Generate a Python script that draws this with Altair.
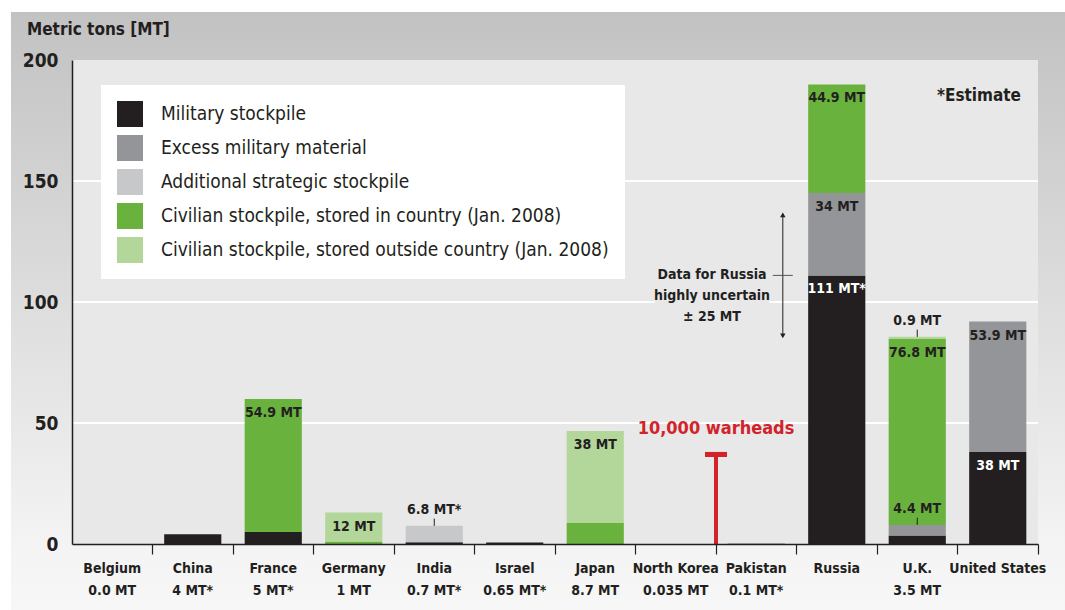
import altair as alt
import pandas as pd

# ---------------- data ----------------
countries = ["Belgium", "China", "France", "Germany", "India", "Israel", "Japan",
             "North Korea", "Pakistan", "Russia", "U.K.", "United States"]
sublabels = ["0.0 MT", "4 MT*", "5 MT*", "1 MT", "0.7 MT*", "0.65 MT*", "8.7 MT",
             "0.035 MT", "0.1 MT*", "", "3.5 MT", ""]

categories = ["Military stockpile", "Excess military material", "Additional strategic stockpile",
              "Civilian stockpile, stored in country (Jan. 2008)",
              "Civilian stockpile, stored outside country (Jan. 2008)"]
colors = ["#231f20", "#939598", "#c7c8ca", "#6ab23e", "#b3d69a"]

military   = [0, 4, 5, 0, 0.7, 0.65, 0, 0.035, 0.1, 111, 3.5, 38]
excess     = [0, 0, 0, 0, 0, 0, 0, 0, 0, 34, 4.4, 53.9]
additional = [0, 0, 0, 0, 6.8, 0, 0, 0, 0, 0, 0, 0]
civ_in     = [0, 0, 54.9, 1, 0, 0, 8.7, 0, 0, 44.9, 76.8, 0]
civ_out    = [0, 0, 0, 12, 0, 0, 38, 0, 0, 0, 0.9, 0]
series = [military, excess, additional, civ_in, civ_out]

# labels inside bars: (country, segment index, text)
in_label_country = ["France", "Germany", "Japan", "Russia", "Russia", "Russia", "U.K.", "United States", "United States"]
in_label_segment = [3, 4, 4, 3, 1, 0, 3, 1, 0]
in_label_text = ["54.9 MT", "12 MT", "38 MT", "44.9 MT", "34 MT", "111 MT*", "76.8 MT", "53.9 MT", "38 MT"]

# labels above a segment with a small leader tick
out_label_country = ["India", "U.K.", "U.K."]
out_label_segment = [4, 4, 1]
out_label_text = ["6.8 MT*", "0.9 MT", "4.4 MT"]

warheads_country = "North Korea"
warheads_mt = 37
warheads_text = "10,000 warheads"

russia_center = 111
russia_unc = 25
russia_note = "Data for Russia\nhighly uncertain\n± 25 MT"

y_ticks = [0, 50, 100, 150, 200]
grid_vals = [50, 100, 150]

# ---------------- helpers ----------------
FONT = "DejaVu Sans Condensed, Liberation Sans Narrow, Roboto, sans-serif"
DARK = "#231f20"
RED = "#d2232a"
PLOT_BG = "#e8e8e8"
W, H = 966, 484


def seg_top(country, seg):
    i = countries.index(country)
    return sum(series[k][i] for k in range(seg + 1))


rows = []
for i, c in enumerate(countries):
    for k, cat in enumerate(categories):
        rows.append({"country": c, "category": cat, "order": k, "value": series[k][i]})
bars_df = pd.DataFrame(rows)

in_df = pd.DataFrame({
    "country": in_label_country,
    "text": in_label_text,
    "y": [seg_top(c, s) for c, s in zip(in_label_country, in_label_segment)],
    "white": [s == 0 for s in in_label_segment],
})
out_df = pd.DataFrame({
    "country": out_label_country,
    "text": out_label_text,
    "y": [seg_top(c, s) for c, s in zip(out_label_country, out_label_segment)],
})
out_df["y2"] = out_df["y"] + 3

xscale = alt.Scale(domain=countries, paddingInner=0, paddingOuter=0)
yscale = alt.Scale(domain=[0, 200], nice=False, zero=True)
xaxis = alt.Axis(title=None, labels=False, ticks=True, tickSize=10, tickColor=DARK, tickWidth=1.2,
                 bandPosition=1, domainColor=DARK, domainWidth=1.5, grid=False, zindex=1)
yaxis = alt.Axis(title=None, values=y_ticks, labelFont=FONT, labelFontSize=19, labelFontWeight="bold",
                 labelColor=DARK, labelPadding=14, ticks=False, domainColor=DARK, domainWidth=1.5,
                 grid=False, zindex=1)


def X(bp=None):
    if bp is None:
        return alt.X("country:N", scale=xscale, axis=xaxis, sort=countries)
    return alt.X("country:N", scale=xscale, axis=xaxis, sort=countries, bandPosition=bp)


def Y(field):
    return alt.Y(field, type="quantitative", scale=yscale, axis=yaxis)


def hbar(half_height):
    # unit-box rectangle path for a horizontal bar symbol
    return f"M-1,-{half_height}H1V{half_height}H-1Z"


one = alt.Data(values=[{"a": 1}])

# ---------------- layers ----------------
outer_bg = alt.Chart(one).mark_rect(
    fill=alt.Gradient(gradient="linear",
                      stops=[alt.GradientStop(color="#c2c2c2", offset=0),
                             alt.GradientStop(color="#dedede", offset=0.5),
                             alt.GradientStop(color="#f4f4f4", offset=0.9),
                             alt.GradientStop(color="#f7f7f7", offset=1)],
                      x1=0, x2=0, y1=0, y2=1)
).encode(x=alt.value(-61), x2=alt.value(W + 27), y=alt.value(-48), y2=alt.value(H + 66))

plot_bg = alt.Chart(one).mark_rect(fill=PLOT_BG).encode(
    x=alt.value(0), x2=alt.value(W), y=alt.value(0), y2=alt.value(H))

grid = alt.Chart(pd.DataFrame({"g": grid_vals})).mark_rule(color="white", strokeWidth=2).encode(
    y=Y("g"), x=alt.value(0), x2=alt.value(W))

bars = alt.Chart(bars_df).mark_bar(width={"band": 0.71}).encode(
    x=X(),
    y=alt.Y("value:Q", stack="zero", scale=yscale, axis=yaxis),
    color=alt.Color("category:N", scale=alt.Scale(domain=categories, range=colors),
                    legend=alt.Legend(title=None, orient="none", legendX=29, legendY=25,
                                      fillColor="white", padding=16, symbolType="square",
                                      symbolSize=676, symbolStrokeWidth=0, symbolOpacity=1,
                                      labelFont=FONT, labelFontSize=19, labelColor=DARK,
                                      labelLimit=700, labelOffset=18, rowPadding=8,
                                      labelFontWeight="normal")),
    order=alt.Order("order:Q", sort="ascending"),
)

in_labels = alt.Chart(in_df).mark_text(font=FONT, fontSize=14, fontWeight="bold", baseline="middle",
                                       dy=14).encode(
    x=X(), y=Y("y"), text="text:N",
    color=alt.condition("datum.white", alt.value("white"), alt.value(DARK)))

out_ticks = alt.Chart(out_df).mark_rule(color=DARK, strokeWidth=1).encode(
    x=X(), y=Y("y"), y2="y2")
out_labels = alt.Chart(out_df).mark_text(font=FONT, fontSize=14, fontWeight="bold", baseline="bottom",
                                         dy=-9, color=DARK).encode(
    x=X(), y=Y("y"), text="text:N")

wh_df = pd.DataFrame({"country": [warheads_country], "lo": [0], "hi": [warheads_mt], "text": [warheads_text]})
wh_rule = alt.Chart(wh_df).mark_rule(color=RED, strokeWidth=4).encode(x=X(1), y=Y("lo"), y2="hi")
wh_top = alt.Chart(wh_df).mark_point(shape=hbar(0.23), filled=True, color=RED, size=484,
                                     opacity=1, strokeWidth=0).encode(x=X(1), y=Y("hi"))
wh_text = alt.Chart(wh_df).mark_text(color=RED, font=FONT, fontSize=18, fontWeight="bold", dy=-25).encode(
    x=X(1), y=Y("hi"), text="text:N")

ru_df = pd.DataFrame({"country": ["Pakistan"], "mid": [russia_center],
                      "lo": [russia_center - russia_unc], "hi": [russia_center + russia_unc]})
ru_rule = alt.Chart(ru_df).mark_rule(color=DARK, strokeWidth=1).encode(x=X(0.83), y=Y("lo"), y2="hi")
ru_up = alt.Chart(ru_df).mark_point(shape="triangle-up", filled=True, color=DARK, size=30, opacity=1).encode(
    x=X(0.83), y=Y("hi"))
ru_dn = alt.Chart(ru_df).mark_point(shape="triangle-down", filled=True, color=DARK, size=30, opacity=1).encode(
    x=X(0.83), y=Y("lo"))
ru_tick = alt.Chart(ru_df).mark_point(shape=hbar(0.05), filled=True, color="#555555", size=400,
                                      opacity=1, strokeWidth=0).encode(x=X(0.83), y=Y("mid"))

note_df = pd.DataFrame({"country": ["North Korea"], "mid": [russia_center], "gap": [100], "text": [russia_note]})
# plot-coloured patch so the gridline stops behind the note's last line
ru_gap = alt.Chart(note_df).mark_point(shape=hbar(0.03), filled=True, color=PLOT_BG, size=115 * 115,
                                       opacity=1, strokeWidth=0).encode(x=X(0.95), y=Y("gap"))
ru_text = alt.Chart(note_df).mark_text(font=FONT, fontSize=14, fontWeight="bold", color=DARK,
                                       lineBreak="\n", lineHeight=21, baseline="middle").encode(
    x=X(0.95), y=Y("mid"), text="text:N")

cl_df = pd.DataFrame({"country": countries, "name": countries, "sub": sublabels})
names = alt.Chart(cl_df).mark_text(font=FONT, fontSize=14, fontWeight="bold", color=DARK,
                                   baseline="middle").encode(x=X(), y=alt.value(H + 25), text="name:N")
subs = alt.Chart(cl_df).mark_text(font=FONT, fontSize=14, fontWeight="bold", color=DARK,
                                  baseline="middle").encode(x=X(), y=alt.value(H + 47), text="sub:N")

title = alt.Chart(one).mark_text(text="Metric tons [MT]", font=FONT, fontSize=17, fontWeight="bold",
                                 color=DARK, align="left", baseline="middle").encode(
    x=alt.value(-45), y=alt.value(-30))
estimate = alt.Chart(one).mark_text(text="*Estimate", font=FONT, fontSize=17, fontWeight="bold",
                                    color=DARK, align="right", baseline="middle").encode(
    x=alt.value(949), y=alt.value(36))

chart = alt.layer(
    outer_bg, plot_bg, grid, bars, in_labels, out_ticks, out_labels,
    wh_rule, wh_top, wh_text, ru_rule, ru_up, ru_dn, ru_tick, ru_gap, ru_text,
    names, subs, title, estimate
).properties(
    width=W, height=H,
    autosize=alt.AutoSizeParams(type="none"),
    padding={"left": 72, "top": 60, "right": 27, "bottom": 66},
    background="white",
).configure_view(stroke=None, fill=None)

chart.save("out.html", embed_options={"renderer": "svg", "actions": False})
